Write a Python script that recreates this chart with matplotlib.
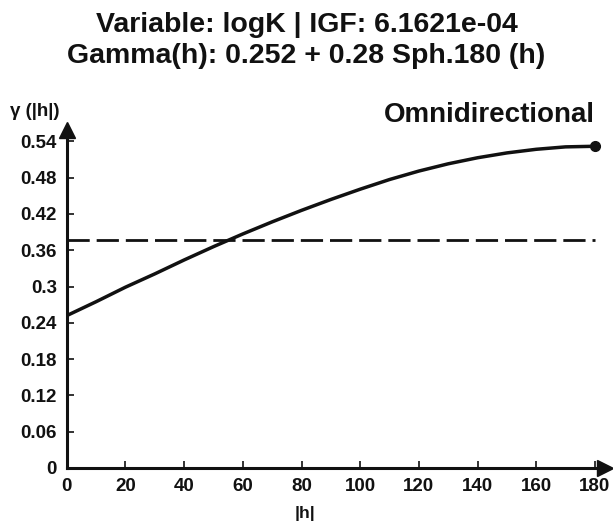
"""Omnidirectional variogram of logK with fitted spherical model."""

import matplotlib
matplotlib.use('Agg')
import matplotlib.pyplot as plt

# lag distance |h| and model semivariance
lag = [0, 10, 20, 30, 40, 50, 60, 70, 80, 90, 100, 110, 120, 130, 140, 150, 160, 170, 180]
gamma = [0.252, 0.275, 0.299, 0.321, 0.344, 0.366, 0.387, 0.407, 0.426, 0.444, 0.461,
         0.477, 0.491, 0.503, 0.513, 0.521, 0.527, 0.531, 0.532]
sill_level = 0.377

xticks = [0, 20, 40, 60, 80, 100, 120, 140, 160, 180]
yticks = [0, 0.06, 0.12, 0.18, 0.24, 0.30, 0.36, 0.42, 0.48, 0.54]
ytick_labels = ['0', '0.06', '0.12', '0.18', '0.24', '0.3', '0.36', '0.42', '0.48', '0.54']

plt.rcParams['font.family'] = ['Liberation Sans', 'DejaVu Sans']

fig = plt.figure(figsize=(6.13, 5.23), dpi=100)
ax = fig.add_axes([0.109, 0.1052, 0.8777, 0.646])

ax.plot(lag, gamma, color='#111111', linewidth=2.5, solid_capstyle='butt')
ax.plot(lag[-1], gamma[-1], 'o', color='#111111', markersize=7)
ax.hlines(sill_level, lag[0], lag[-1], color='#111111', linewidth=2,
          linestyles=(0, (8, 2.5)))

ax.set_xlim(0, 183.4)
ax.set_ylim(0, 0.5587)
ax.set_xticks(xticks)
ax.set_yticks(yticks)
ax.set_yticklabels(ytick_labels)
ax.tick_params(direction='in', length=5, width=1.2, labelsize=13.5, colors='#111111')
ax.tick_params(axis='y', pad=7)
ax.tick_params(axis='x', pad=7)
for lab in ax.get_xticklabels() + ax.get_yticklabels():
    lab.set_fontweight('bold')

ax.spines[['top', 'right']].set_visible(False)
for s in ['left', 'bottom']:
    ax.spines[s].set_linewidth(2.2)
    ax.spines[s].set_color('#111111')

# arrow heads on the axes
ax.plot(1, 0, '>', color='#111111', markersize=11, transform=ax.transAxes, clip_on=False)
ax.plot(0, 1, '^', color='#111111', markersize=11, transform=ax.transAxes, clip_on=False)

ax.text(0.982, 1.045, 'Omnidirectional', transform=ax.transAxes, ha='right', va='center',
        fontsize=20, fontweight='bold', color='#111111')
fig.text(0.057, 0.787, 'γ (|h|)', ha='center', va='center', fontsize=13.5,
         fontweight='bold', color='#111111')
fig.text(0.497, 0.018, '|h|', ha='center', va='center', fontsize=12.5,
         fontweight='bold', color='#111111')

fig.text(0.5, 0.952, 'Variable: logK | IGF: 6.1621e-04', ha='center', va='center',
         fontsize=20.5, fontweight='bold', color='#111111')
fig.text(0.5, 0.892, 'Gamma(h): 0.252 + 0.28 Sph.180 (h)', ha='center', va='center',
         fontsize=20.5, fontweight='bold', color='#111111')

fig.savefig('out.png', dpi=100)
